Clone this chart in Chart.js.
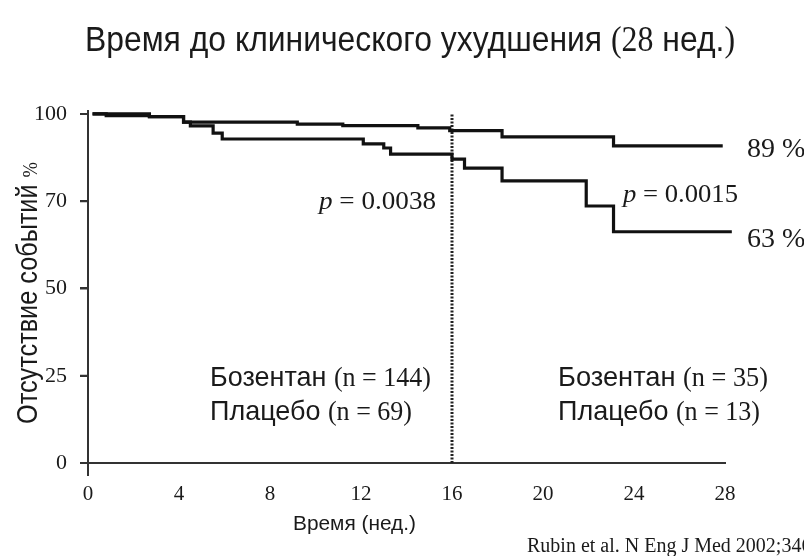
<!DOCTYPE html>
<html>
<head>
<meta charset="utf-8">
<script src="https://cdn.jsdelivr.net/npm/chart.js@4"></script>
<style>
  html, body { margin: 0; background: #fff; }
  #wrap { width: 804px; height: 556px; }
</style>
</head>
<body>
<div id="wrap"><canvas id="kmChart" width="804" height="556"></canvas></div>
<script>
// Data (weeks, % without events)
const yTickLabels = [0, 25, 50, 70, 100];
const bosentanWeeks = [0.2, 2.7, 4.2, 9.2, 11.2, 14.5, 15.9, 18.2, 23.1, 27.9];
const bosentanPct = [100, 99.1, 97.2, 96.5, 96.0, 95.2, 94.3, 92.1, 89, 89];
const placeboWeeks = [0.2, 0.8, 2.7, 4.2, 4.5, 5.5, 5.9, 12.1, 13.0, 13.3, 16.0, 16.55, 18.2, 21.9, 23.1, 28.3];
const placeboPct = [100, 99.4, 99.1, 97.2, 95.9, 93.4, 91.4, 89.7, 88.3, 86.2, 84.5, 81.4, 77.0, 68.9, 63, 63];
const cutoffWeek = 16;
const endLabels = ['89 %', '63 %'];
const pValues = ['0.0038', '0.0015'];
const nBefore = [144, 69];
const nAfter = [35, 13];

const SANS = '"Liberation Sans", Arial, sans-serif';
const SERIF = '"Liberation Serif", "Times New Roman", serif';
const INK = '#1a1a1a';

// y axis is drawn with equal spacing between 0, 25, 50, 70, 100
function pctToAxis(p) {
  for (let i = 1; i < yTickLabels.length; i++) {
    if (p <= yTickLabels[i] || i === yTickLabels.length - 1) {
      const lo = yTickLabels[i - 1], hi = yTickLabels[i];
      return (i - 1) + (p - lo) / (hi - lo);
    }
  }
}

function toPoints(xs, ys) {
  return xs.map((x, i) => ({ x: x, y: pctToAxis(ys[i]) }));
}

// text made of pieces in different fonts, squeezed to a width if given
function drawRich(ctx, parts, x, y, opts = {}) {
  ctx.save();
  ctx.fillStyle = INK;
  ctx.textBaseline = 'alphabetic';
  ctx.textAlign = 'left';
  let total = 0;
  const widths = parts.map(([t, f]) => {
    ctx.font = f;
    const w = ctx.measureText(t).width;
    total += w;
    return w;
  });
  const sx = opts.width ? opts.width / total : 1;
  ctx.translate(x, y);
  if (opts.rotate) ctx.rotate(opts.rotate);
  ctx.scale(sx, 1);
  let cx = 0;
  if (opts.align === 'center') cx = -total / 2;
  else if (opts.align === 'right') cx = -total;
  parts.forEach(([t, f], i) => {
    ctx.font = f;
    ctx.fillText(t, cx, 0);
    cx += widths[i];
  });
  ctx.restore();
}

const annotations = {
  id: 'annotations',
  afterDraw(chart) {
    const ctx = chart.ctx;
    const xs = chart.scales.x, ys = chart.scales.y;

    // y axis runs a little below the x axis, plus its tick marks
    ctx.save();
    ctx.strokeStyle = '#333';
    ctx.lineWidth = 2;
    ctx.beginPath();
    ctx.moveTo(xs.left, ys.bottom);
    ctx.lineTo(xs.left, ys.bottom + 13);
    yTickLabels.forEach((_, i) => {
      const py = ys.getPixelForValue(i);
      ctx.moveTo(xs.left - 8, py);
      ctx.lineTo(xs.left, py);
    });
    ctx.stroke();
    ctx.restore();

    // title
    drawRich(ctx, [
      ['Время до клинического ухудшения ', '35px ' + SANS],
      ['(28', '35px ' + SERIF],
      [' нед.', '35px ' + SANS],
      [')', '35px ' + SERIF]
    ], 410, 51, { align: 'center', width: 650 });

    // axis titles
    drawRich(ctx, [
      ['Отсутствие событий ', '30px ' + SANS],
      ['%', '22px ' + SERIF]
    ], 37, 293, { align: 'center', width: 262, rotate: -Math.PI / 2 });
    drawRich(ctx, [['Время (нед.)', '21px ' + SANS]], 293, 530, { width: 123 });

    // p values
    const xCut = xs.getPixelForValue(cutoffWeek);
    drawRich(ctx, [
      ['p', 'italic 25px ' + SERIF],
      [' = ' + pValues[0], '25px ' + SERIF]
    ], xCut - 16, 209, { align: 'right', width: 117 });
    drawRich(ctx, [
      ['p', 'italic 25px ' + SERIF],
      [' = ' + pValues[1], '25px ' + SERIF]
    ], 623, 202, { width: 115 });

    // end values
    const xEnd = xs.getPixelForValue(28) + 22;
    drawRich(ctx, [[endLabels[0], '28px ' + SERIF]], xEnd, ys.getPixelForValue(pctToAxis(89)) + 11);
    drawRich(ctx, [[endLabels[1], '28px ' + SERIF]], xEnd, ys.getPixelForValue(pctToAxis(63)) + 15);

    // patients at risk
    drawRich(ctx, [['Бозентан ', '28px ' + SANS], ['(n = ' + nBefore[0] + ')', '27px ' + SERIF]], 210, 386, { width: 221 });
    drawRich(ctx, [['Плацебо ', '28px ' + SANS], ['(n = ' + nBefore[1] + ')', '27px ' + SERIF]], 210, 420, { width: 202 });
    drawRich(ctx, [['Бозентан ', '28px ' + SANS], ['(n = ' + nAfter[0] + ')', '27px ' + SERIF]], 558, 386, { width: 210 });
    drawRich(ctx, [['Плацебо ', '28px ' + SANS], ['(n = ' + nAfter[1] + ')', '27px ' + SERIF]], 558, 420, { width: 202 });

    // source
    drawRich(ctx, [['Rubin et al. N Eng J Med 2002;346:896-903', '20px ' + SERIF]], 527, 552);
  }
};

const ctx = document.getElementById('kmChart').getContext('2d');
new Chart(ctx, {
  type: 'line',
  data: {
    datasets: [
      {
        label: 'Бозентан',
        data: toPoints(bosentanWeeks, bosentanPct),
        stepped: true,
        borderColor: '#111',
        borderWidth: 3.2,
        pointRadius: 0,
        fill: false,
        clip: false
      },
      {
        label: 'Плацебо',
        data: toPoints(placeboWeeks, placeboPct),
        stepped: true,
        borderColor: '#111',
        borderWidth: 3.2,
        pointRadius: 0,
        fill: false,
        clip: false
      },
      {
        label: '16 нед.',
        data: [{ x: cutoffWeek, y: pctToAxis(0) }, { x: cutoffWeek, y: pctToAxis(100) }],
        borderColor: '#222',
        borderWidth: 3,
        borderDash: [2, 1.5],
        pointRadius: 0,
        fill: false
      }
    ]
  },
  options: {
    responsive: false,
    animation: false,
    layout: { padding: { top: 111, right: 79, left: 0, bottom: 0 } },
    plugins: {
      legend: { display: false },
      tooltip: { enabled: false }
    },
    scales: {
      x: {
        type: 'linear',
        min: 0,
        max: 28,
        afterFit: (s) => { s.height = 93; },
        ticks: {
          stepSize: 4,
          padding: 19,
          maxRotation: 0,
          color: INK,
          font: { family: SERIF, size: 21 }
        },
        grid: { display: false, drawTicks: false },
        border: { display: true, color: '#333', width: 2 }
      },
      y: {
        type: 'linear',
        min: 0,
        max: 4.034,
        afterFit: (s) => { s.width = 88; },
        afterBuildTicks: (s) => { s.ticks = yTickLabels.map((_, i) => ({ value: i })); },
        ticks: {
          padding: 13,
          color: INK,
          font: { family: SERIF, size: 22 },
          callback: (v, i) => yTickLabels[i]
        },
        grid: { drawOnChartArea: false, tickLength: 8, color: '#333', lineWidth: 2 },
        border: { display: true, color: '#333', width: 2 }
      }
    }
  },
  plugins: [annotations]
});
</script>
</body>
</html>
